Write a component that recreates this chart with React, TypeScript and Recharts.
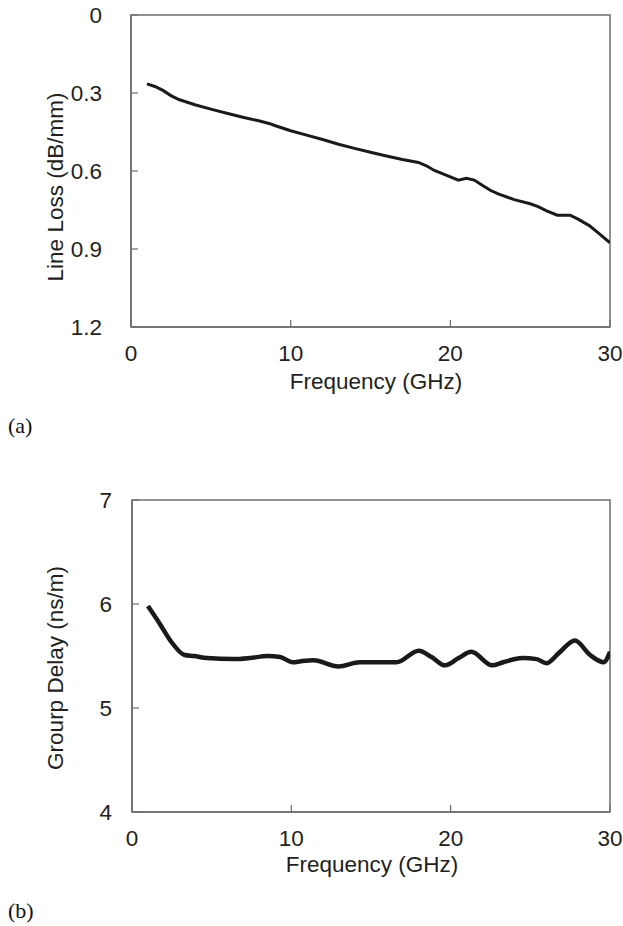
import React from "react";
import { LineChart, Line, XAxis, YAxis, Label, ReferenceArea } from "recharts";

const FONT = '"Liberation Sans", Arial, sans-serif';
const INK = "#231f20";
const FRAME = "#6d6e71";
const TRACE = "#1a1a1a";

// (a) line loss, dB/mm
const lossFreq = [1, 1.5, 2, 2.5, 3, 4, 5, 6, 7, 8, 8.7, 9, 10, 11, 12, 13, 14, 15, 16, 17, 18, 18.5, 19, 20, 20.5, 21, 21.5, 22, 22.5, 23, 24, 25, 25.5, 26, 26.7, 27.5, 28, 28.7, 29.3, 30];
const lossValue = [0.265, 0.275, 0.29, 0.31, 0.325, 0.345, 0.362, 0.378, 0.393, 0.407, 0.418, 0.425, 0.445, 0.462, 0.479, 0.497, 0.513, 0.528, 0.542, 0.556, 0.567, 0.58, 0.598, 0.623, 0.635, 0.628, 0.635, 0.655, 0.674, 0.688, 0.71, 0.726, 0.737, 0.752, 0.77, 0.77, 0.785, 0.81, 0.84, 0.876];

// (b) group delay, ns/m
const delayFreq = [1, 1.7, 2.4, 3.3, 3.9, 4.7, 6.4, 7.4, 8.5, 9.3, 10.1, 10.6, 11.4, 12.95, 14.3, 16.6, 18.0, 18.8, 19.65, 20.5, 21.3, 22.6, 23.3, 24.5, 25.4, 26.0, 26.8, 27.8, 28.75, 29.6, 30];
const delayValue = [5.98, 5.82, 5.65, 5.51, 5.5, 5.48, 5.47, 5.48, 5.5, 5.49, 5.44, 5.45, 5.46, 5.4, 5.44, 5.44, 5.55, 5.49, 5.41, 5.48, 5.54, 5.41, 5.44, 5.48, 5.47, 5.43, 5.53, 5.65, 5.51, 5.44, 5.54];

const freqTicks = [0, 10, 20, 30];
const lossTicks = [0, 0.3, 0.6, 0.9, 1.2];
const delayTicks = [4, 5, 6, 7];

const lossData = lossFreq.map((f, i) => ({ f, v: lossValue[i] }));
const delayData = delayFreq.map((f, i) => ({ f, v: delayValue[i] }));

const textStyle = { fontFamily: FONT, fontSize: 22.5, fill: INK };

const BottomTick = ({ x, y, payload }: any) => (
  <g>
    <line x1={x} x2={x} y1={y} y2={y - 7} stroke={FRAME} strokeWidth={1.2} />
    <text x={x} y={y + 26} textAnchor="middle" dominantBaseline="central" {...textStyle}>
      {payload.value}
    </text>
  </g>
);

const leftTick = (gap: number) => ({ x, y, payload }: any) => (
  <g>
    <line x1={x} x2={x + 7} y1={y} y2={y} stroke={FRAME} strokeWidth={1.2} />
    <text x={x - gap} y={y} textAnchor="end" dominantBaseline="central" {...textStyle}>
      {payload.value}
    </text>
  </g>
);

function Panel({ data, yDomain, yTicks, reversed, yTitle, yGap, plotLeft, top, xTitle, yTitlePos, strokeWidth, curve }: any) {
  return (
    <LineChart width={623} height={400} data={data} margin={{ top, right: 13, bottom: 0, left: 0 }}>
      <XAxis
        dataKey="f"
        type="number"
        domain={[0, 30]}
        ticks={freqTicks}
        height={400 - top - 312}
        tickSize={0}
        tickMargin={0}
        tick={<BottomTick />}
        axisLine={{ stroke: FRAME, strokeWidth: 1.5 }}
        allowDataOverflow
      >
        <Label content={() => (
          <text x={xTitle[0]} y={xTitle[1]} textAnchor="middle" dominantBaseline="central" {...textStyle}>
            Frequency (GHz)
          </text>
        )} />
      </XAxis>
      <YAxis
        type="number"
        domain={yDomain}
        ticks={yTicks}
        reversed={reversed}
        width={plotLeft}
        tickSize={0}
        tickMargin={0}
        tick={leftTick(yGap)}
        axisLine={{ stroke: FRAME, strokeWidth: 1.5 }}
        allowDataOverflow
      >
        <Label content={() => (
          <text
            x={yTitlePos[0]}
            y={yTitlePos[1]}
            textAnchor="middle"
            dominantBaseline="central"
            transform={`rotate(-90 ${yTitlePos[0]} ${yTitlePos[1]})`}
            {...textStyle}
          >
            {yTitle}
          </text>
        )} />
      </YAxis>
      <ReferenceArea x1={0} x2={30} y1={yDomain[0]} y2={yDomain[1]} fill="none" stroke={FRAME} strokeWidth={1.5} />
      <Line
        dataKey="v"
        type={curve}
        stroke={TRACE}
        strokeWidth={strokeWidth}
        dot={false}
        isAnimationActive={false}
      />
    </LineChart>
  );
}

const captionStyle = { fontFamily: '"Liberation Serif", "Times New Roman", serif', fontSize: 22, fill: "#111" };

export default function App() {
  return (
    <div style={{ position: "absolute", left: 0, top: 0, width: 623, height: 926, background: "#fff" }}>
      <div style={{ position: "absolute", left: 0, top: 0 }}>
        <Panel
          data={lossData}
          yDomain={[0, 1.2]}
          yTicks={lossTicks}
          reversed
          yTitle="Line Loss (dB/mm)"
          yGap={29}
          plotLeft={131}
          top={15}
          xTitle={[376, 381]}
          yTitlePos={[55, 187]}
          strokeWidth={3}
          curve="linear"
        />
      </div>
      <svg style={{ position: "absolute", left: 0, top: 400 }} width={80} height={50}>
        <text x={8} y={33} {...captionStyle}>(a)</text>
      </svg>
      <div style={{ position: "absolute", left: 0, top: 480 }}>
        <Panel
          data={delayData}
          yDomain={[4, 7]}
          yTicks={delayTicks}
          reversed={false}
          yTitle="Grourp Delay (ns/m)"
          yGap={20}
          plotLeft={132}
          top={20}
          xTitle={[372, 384]}
          yTitlePos={[55, 188]}
          strokeWidth={4.5}
          curve="monotone"
        />
      </div>
      <svg style={{ position: "absolute", left: 0, top: 880 }} width={80} height={46}>
        <text x={8} y={38} {...captionStyle}>(b)</text>
      </svg>
    </div>
  );
}
